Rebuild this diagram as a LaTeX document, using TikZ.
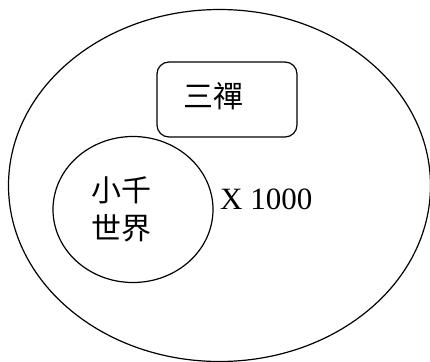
\documentclass[tikz,border=0pt]{standalone}
\usepackage{fontspec}
\setmainfont{Liberation Serif}
\newfontfamily\cjk{Noto Sans CJK TC}
\usetikzlibrary{shapes.geometric}
\begin{document}
\begin{tikzpicture}[x=1bp,y=-1bp,
  outline/.style={draw=black,line width=1.2bp,inner sep=0pt},
  bigoval/.style={outline,ellipse,minimum width=422bp,minimum height=352bp},
  smalloval/.style={outline,ellipse,minimum width=160bp,minimum height=146bp},
  roundbox/.style={outline,rectangle,rounded corners=12bp,minimum width=140bp,minimum height=75bp},
  cjktext/.style={inner sep=0pt,font=\cjk\fontsize{30bp}{38bp}\selectfont,align=center},
  latintext/.style={inner sep=0pt,font=\fontsize{31bp}{36bp}\selectfont}]
\useasboundingbox (0,0) rectangle (430,362);
\node[bigoval] (outer) at (219.5,185.5) {};
\node[roundbox] (box) at (227,99.5) {};
\node[smalloval] (inner) at (133,209.5) {};
\node[cjktext] (sanchan) at (213,96) {三禪};
\node[cjktext] (xiaoqian) at (121.5,209) {小千\\世界};
\node[latintext,anchor=base west] (times) at (220,209) {X 1000};
\end{tikzpicture}
\end{document}
